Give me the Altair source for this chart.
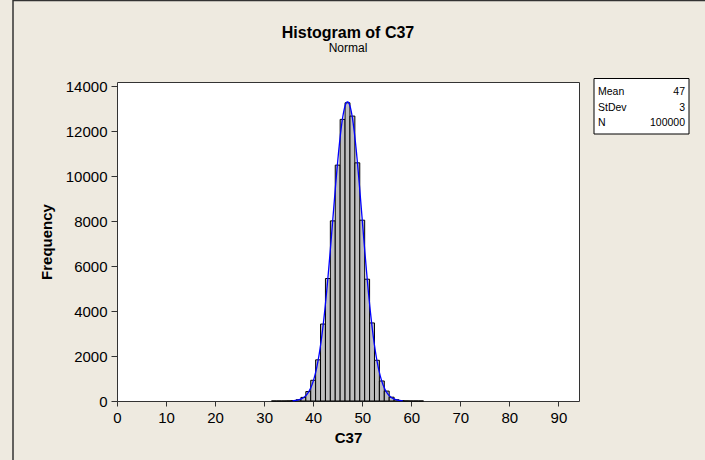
import altair as alt
import pandas as pd

# ---- data ----
bin_centers = list(range(32, 63))
frequencies = [1, 1, 1, 5, 16, 55, 160, 420, 921, 1830,
               3420, 5445, 8007, 10485, 12518, 13256, 12665, 10587, 8038, 5414,
               3470, 1810, 890, 440, 170, 55, 15, 5, 1, 1, 1]
bin_width = 1
stat_labels = ["Mean", "StDev", "N"]
stat_values = ["47", "3", "100000"]
fit_mean = 47
fit_sd = 3
fit_n = 100000
x_ticks = [0, 10, 20, 30, 40, 50, 60, 70, 80, 90]
y_ticks = [0, 2000, 4000, 6000, 8000, 10000, 12000, 14000]

FONT = "Liberation Sans"
BG = "#EEEAE0"

bars_df = pd.DataFrame({"center": bin_centers, "freq": frequencies})
bars_df["start"] = bars_df["center"] - bin_width / 2
bars_df["end"] = bars_df["center"] + bin_width / 2

x_scale = alt.Scale(domain=[0, 94.2], nice=False, zero=False)
y_scale = alt.Scale(domain=[0, 14180], nice=False)

PW, PH = 462, 319

bars = alt.Chart(bars_df).mark_rect(
    fill="#BEBEBE", stroke="#000000", strokeWidth=1
).encode(
    x=alt.X("start:Q", scale=x_scale,
            axis=alt.Axis(values=x_ticks, title="C37", grid=False, domain=False,
                          format="d",
                          labelFont=FONT, labelFontSize=15, labelColor="#000000",
                          labelFlush=False, labelOverlap=False, labelPadding=4,
                          tickColor="#333333", tickSize=5,
                          titleFont=FONT, titleFontSize=15, titleFontWeight="bold",
                          titleColor="#000000", titleX=PW / 2, titleY=36,
                          titleBaseline="middle", titleAlign="center")),
    x2="end:Q",
    y=alt.Y("freq:Q", scale=y_scale,
            axis=alt.Axis(values=y_ticks, title="Frequency", grid=False, domain=False,
                          format="d",
                          labelFont=FONT, labelFontSize=15, labelColor="#000000",
                          labelFlush=False, labelOverlap=False, labelPadding=4,
                          tickColor="#333333", tickSize=6,
                          titleFont=FONT, titleFontSize=15, titleFontWeight="bold",
                          titleColor="#000000", titleX=-71, titleY=PH / 2,
                          titleAngle=270, titleBaseline="middle", titleAlign="center")),
    y2=alt.datum(0),
)

curve = alt.Chart(alt.sequence(35.8, 58.25, 0.05, as_="xv")).transform_calculate(
    yv=f"{fit_n * bin_width}*exp(-pow(datum.xv-{fit_mean},2)/(2*{fit_sd}*{fit_sd}))/({fit_sd}*sqrt(2*PI))"
).mark_line(color="#0000FF", strokeWidth=1.3).encode(
    x=alt.X("xv:Q", scale=x_scale),
    y=alt.Y("yv:Q", scale=y_scale),
)

one = pd.DataFrame({"k": [0]})

box = alt.Chart(one).mark_rect(fill="#FFFFFF", stroke="#000000", strokeWidth=1).encode(
    x=alt.value(477), x2=alt.value(572), y=alt.value(-3.5), y2=alt.value(52)
)

row_y = [9.5, 25.5, 41]
stat_layers = []
for lab, val, yy in zip(stat_labels, stat_values, row_y):
    stat_layers.append(
        alt.Chart(pd.DataFrame({"t": [lab]})).mark_text(
            font=FONT, fontSize=10.5, align="left", baseline="middle", color="#000000"
        ).encode(text="t:N", x=alt.value(481), y=alt.value(yy))
    )
    stat_layers.append(
        alt.Chart(pd.DataFrame({"t": [val]})).mark_text(
            font=FONT, fontSize=10.5, align="right", baseline="middle", color="#000000"
        ).encode(text="t:N", x=alt.value(568), y=alt.value(yy))
    )

frame_left = alt.Chart(one).mark_rule(color="#333333", strokeWidth=1.5).encode(
    x=alt.value(-104), y=alt.value(-82), y2=alt.value(400)
)
frame_top = alt.Chart(one).mark_rule(color="#333333", strokeWidth=1.5).encode(
    x=alt.value(-104), x2=alt.value(700), y=alt.value(-81.5)
)

chart = alt.layer(
    bars, curve, box, *stat_layers, frame_left, frame_top
).properties(
    width=PW, height=PH,
    autosize=alt.AutoSizeParams(type="none"),
    padding={"left": 117, "top": 82, "right": 126, "bottom": 59},
    background=BG,
    title=alt.TitleParams(
        text="Histogram of C37", subtitle="Normal",
        font=FONT, fontSize=16, fontWeight="bold", color="#000000",
        subtitleFont=FONT, subtitleFontSize=12, subtitleColor="#000000",
        subtitlePadding=2, anchor="middle", offset=-55, frame="group",
    ),
).configure_view(
    stroke="#333333", strokeWidth=1, fill="#FFFFFF"
)

chart.save("out.html", embed_options={"renderer": "svg", "actions": False})
